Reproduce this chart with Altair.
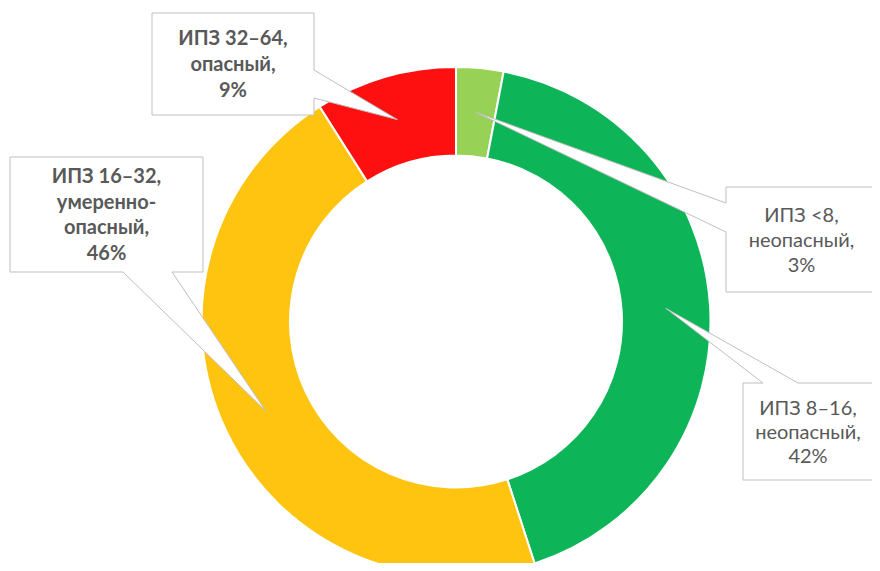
import math
import altair as alt
import pandas as pd

# ---------------- data ----------------
categories = ["ИПЗ <8", "ИПЗ 8–16", "ИПЗ 16–32", "ИПЗ 32–64"]
hazard = ["неопасный", "неопасный", "умеренно-опасный", "опасный"]
shares = [3, 42, 46, 9]
colors = ["#97D257", "#0DB558", "#FFC40F", "#FF1010"]
bold_labels = [False, False, True, True]

# ---------------- layout (pixels inside the chart) ----------------
W, H = 864, 555
CX, CY = 448, 313.5
R_OUT, R_IN = 254.5, 166
R_TIP = (R_OUT + R_IN) / 2
FONT = "Lato"
FONT_SIZE = 20
TEXT_COLOR = "#595959"
BOX_STROKE = "#BFBFBF"

# box: (x0, y0, x1, y1, side of pointer, pointer base a, pointer base b, line height)
boxes = [
    (718, 179, 869, 284, "left", 195, 224, 25),
    (735, 375, 865, 472, "top", 755, 790, 24),
    (2, 149, 195, 264, "bottom", 115, 164, 25.5),
    (144, 5, 306, 107, "right", 62, 90, 26),
]

# ---------------- build tables ----------------
arc_df = pd.DataFrame({
    "cat": categories,
    "share": shares,
    "idx": list(range(len(categories))),
})

poly_rows = []
text_rows = []
cum = 0
for i, (cat, hz, v) in enumerate(zip(categories, hazard, shares)):
    theta = 2 * math.pi * (cum + v / 2) / sum(shares)
    cum += v
    tx = CX + R_TIP * math.sin(theta)
    ty = CY - R_TIP * math.cos(theta)
    x0, y0, x1, y1, side, a, b, lh = boxes[i]
    if side == "right":
        pts = [(x0, y0), (x1, y0), (x1, a), (tx, ty), (x1, b), (x1, y1), (x0, y1), (x0, y0)]
    elif side == "left":
        pts = [(x0, y0), (x1, y0), (x1, y1), (x0, y1), (x0, b), (tx, ty), (x0, a), (x0, y0)]
    elif side == "bottom":
        pts = [(x0, y0), (x1, y0), (x1, y1), (b, y1), (tx, ty), (a, y1), (x0, y1), (x0, y0)]
    else:  # top
        pts = [(x0, y0), (a, y0), (tx, ty), (b, y0), (x1, y0), (x1, y1), (x0, y1), (x0, y0)]
    for k, (px, py) in enumerate(pts):
        poly_rows.append({"box": cat, "k": k, "px": px, "py": py})
    hz_parts = hz.split("-")
    if len(hz_parts) > 1:
        hz_lines = [hz_parts[0] + "-", hz_parts[1] + ","]
    else:
        hz_lines = [hz + ","]
    lines = [cat + ","] + hz_lines + [f"{v}%"]
    cy_box = (y0 + y1) / 2 + 1
    for j, line in enumerate(lines):
        text_rows.append({
            "cat": cat,
            "label": line,
            "lx": (x0 + x1) / 2,
            "ly": cy_box + (j - (len(lines) - 1) / 2) * lh,
            "bold": bold_labels[i],
        })

poly_df = pd.DataFrame(poly_rows)
text_df = pd.DataFrame(text_rows)

xs = alt.Scale(domain=[0, W], range=[0, W], nice=False, zero=False)
ys = alt.Scale(domain=[0, H], range=[0, H], nice=False, zero=False)

ring = alt.Chart(arc_df).mark_arc(
    innerRadius=R_IN, outerRadius=R_OUT, stroke="white", strokeWidth=2
).encode(
    theta=alt.Theta("share:Q", stack=True),
    color=alt.Color("cat:N", scale=alt.Scale(domain=categories, range=colors), legend=None),
    order=alt.Order("idx:Q"),
    x=alt.value(CX),
    y=alt.value(CY),
)

callouts = alt.Chart(poly_df).mark_line(
    fill="white", stroke=BOX_STROKE, strokeWidth=1, interpolate="linear"
).encode(
    x=alt.X("px:Q", scale=xs, axis=None),
    y=alt.Y("py:Q", scale=ys, axis=None),
    order=alt.Order("k:Q"),
    detail="box:N",
)

text_bold = alt.Chart(text_df).transform_filter("datum.bold").mark_text(
    font=FONT, fontSize=FONT_SIZE, fontWeight="bold", color=TEXT_COLOR,
    align="center", baseline="middle"
).encode(
    x=alt.X("lx:Q", scale=xs, axis=None),
    y=alt.Y("ly:Q", scale=ys, axis=None),
    text="label:N",
)

text_norm = alt.Chart(text_df).transform_filter("!datum.bold").mark_text(
    font=FONT, fontSize=FONT_SIZE, color=TEXT_COLOR,
    align="center", baseline="middle"
).encode(
    x=alt.X("lx:Q", scale=xs, axis=None),
    y=alt.Y("ly:Q", scale=ys, axis=None),
    text="label:N",
)

chart = alt.layer(ring, callouts, text_bold, text_norm).properties(
    width=W, height=H,
    autosize=alt.AutoSizeParams(type="none"),
    padding=0,
    background="white",
).configure_view(stroke=None)

chart.save("out.html", embed_options={"renderer": "svg", "actions": False})
